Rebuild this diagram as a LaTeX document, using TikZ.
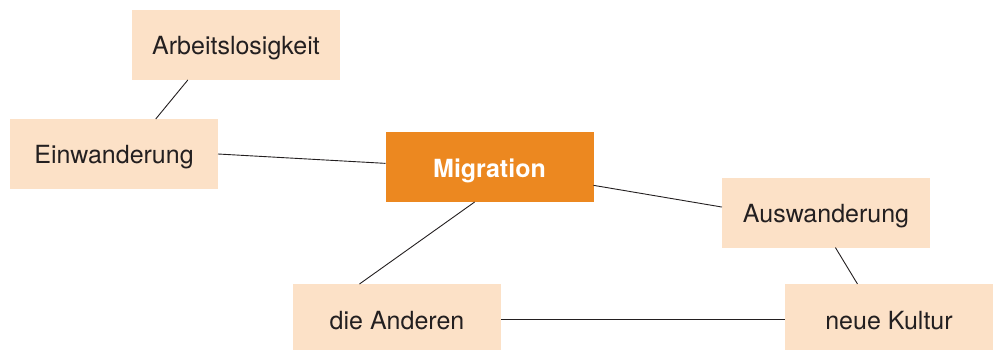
\documentclass[tikz,border=0pt]{standalone}
\usepackage{fontspec}
\setmainfont{TeX Gyre Heros}
\definecolor{boxfill}{HTML}{FCE1C7}
\definecolor{migfill}{HTML}{EC8820}
\definecolor{ink}{HTML}{231F20}
\begin{document}
\begin{tikzpicture}[x=1pt,y=-1pt,
	begriff/.style={fill=boxfill,minimum width=208pt,minimum height=70pt,inner sep=0pt,outer sep=0pt,
		text height=20pt,text depth=0pt,text=ink,font=\fontsize{25}{30}\selectfont},
	kern/.style={begriff,fill=migfill,text=white,font=\fontsize{25}{30}\selectfont\bfseries},
	verb/.style={draw=ink,line width=0.9pt}]
	\useasboundingbox (0,0) rectangle (996,350);
	\node[begriff] (arb) at (236,45) {Arbeitslosigkeit};
	\node[begriff] (ein) at (114,154) {Einwanderung};
	\node[kern] (mig) at (489.5,167) {Migration};
	\node[begriff] (aus) at (826,212.5) {Auswanderung};
	\node[begriff] (and) at (397,319) {die Anderen};
	\node[begriff] (neu) at (889,319) {neue Kultur};
	% Verbindungen
	\foreach \a/\b in {arb.216/ein.40, ein.east/mig.178, mig.-10/aus.177.5,
		mig.247.5/and.137.4, aus.-75.4/neu.132.4, and.east/neu.west}{
		\draw[verb] (\a) -- (\b);
	}
\end{tikzpicture}
\end{document}
